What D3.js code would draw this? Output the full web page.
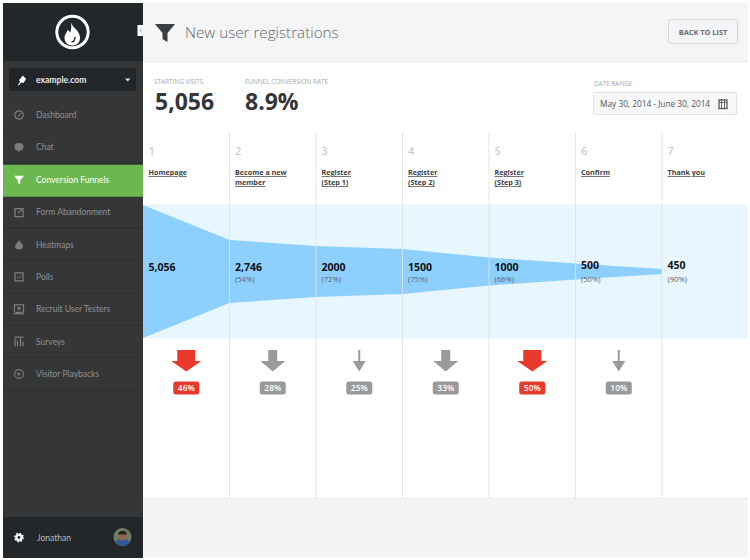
<!DOCTYPE html>
<html>
<head>
<meta charset="utf-8">
<script src="https://cdn.jsdelivr.net/npm/d3@7"></script>
<style>
  html, body { margin: 0; padding: 0; background: #fff; }
  svg { display: block; font-family: "Open Sans", sans-serif; }
  .menu { font-family: Lato, "Open Sans", sans-serif; }
</style>
</head>
<body>
<div id="chart"></div>
<script>
// Funnel data
const stepNumbers = ["1", "2", "3", "4", "5", "6", "7"];
const stepLabels = [["Homepage"], ["Become a new", "member"], ["Register", "(Step 1)"], ["Register", "(Step 2)"], ["Register", "(Step 3)"], ["Confirm"], ["Thank you"]];
const stepVisits = [5056, 2746, 2000, 1500, 1000, 500, 450];
const visitLabels = ["5,056", "2,746", "2000", "1500", "1000", "500", "450"];
const stepRates = [null, 54, 72, 75, 66, 50, 90];
const dropRates = [46, 28, 25, 33, 50, 10];

const menuItems = ["Dashboard", "Chat", "Conversion Funnels", "Form Abandonment", "Heatmaps", "Polls", "Recruit User Testers", "Surveys", "Visitor Playbacks"];
const activeItem = "Conversion Funnels";

const width = 750, height = 560;
const svg = d3.select("#chart").append("svg").attr("width", width).attr("height", height);

// the drawn band is not proportional to the visits, so it is a piecewise scale
const x = d3.scalePoint().domain(stepNumbers).range([143, 662]);
const bandHeight = d3.scaleLinear()
    .domain([450, 500, 1000, 1500, 2000, 2746, 5056])
    .range([5, 16, 28, 45, 51, 63, 133]);
const midY = 271.5;

function txt(parent, str, px, py, size, color, weight, anchor) {
    return parent.append("text")
        .attr("x", px).attr("y", py)
        .attr("font-size", size)
        .attr("fill", color)
        .attr("font-weight", weight || 400)
        .attr("text-anchor", anchor || "start")
        .text(str);
}

// page backgrounds
svg.append("rect").attr("x", 143).attr("y", 3).attr("width", 605).attr("height", 58).attr("fill", "#f4f5f7");
svg.append("line").attr("x1", 143).attr("x2", 748).attr("y1", 61.5).attr("y2", 61.5).attr("stroke", "#e8eaec");
svg.append("rect").attr("x", 143).attr("y", 498).attr("width", 605).attr("height", 59).attr("fill", "#f3f4f6");
svg.append("line").attr("x1", 143).attr("x2", 748).attr("y1", 498.5).attr("y2", 498.5).attr("stroke", "#e6e8ea");

// header
const header = svg.append("g");
header.append("path").attr("d", "M155 24H175L167.5 33V42L162.5 39V33Z").attr("fill", "#3c3f41");
txt(header, "New user registrations", 185, 38, 15.2, "#63666a", 300);
header.append("rect").attr("x", 668.5).attr("y", 19.5).attr("width", 69).attr("height", 24).attr("rx", 2)
    .attr("fill", "#f4f5f7").attr("stroke", "#d5d8da");
txt(header, "BACK TO LIST", 703, 34.5, 7.4, "#6a6d70", 700, "middle");

// summary numbers
const kpi = svg.append("g");
txt(kpi, "STARTING VISITS", 154, 84, 6.4, "#a5a7a9");
txt(kpi, "5,056", 155, 109.5, 23, "#33363a", 700);
txt(kpi, "FUNNEL CONVERSION RATE", 245, 84, 6.4, "#a5a7a9");
txt(kpi, "8.9%", 245, 109.5, 23, "#33363a", 700);
txt(kpi, "DATE RANGE", 594, 85.5, 6.4, "#a5a7a9");
kpi.append("rect").attr("x", 593.5).attr("y", 92.5).attr("width", 143).attr("height", 22).attr("rx", 1.5)
    .attr("fill", "#f5f7f9").attr("stroke", "#dfe3e6");
txt(kpi, "May 30, 2014 - June 30, 2014", 600, 106.5, 8.3, "#55585b");
kpi.append("rect").attr("x", 719).attr("y", 100).attr("width", 8).attr("height", 8.5).attr("fill", "none").attr("stroke", "#55585b").attr("stroke-width", 1.3);
kpi.append("path").attr("d", "M721.5 99V108M724.5 99V108M719 102.5H727").attr("stroke", "#55585b").attr("stroke-width", 0.9);

// funnel band
const steps = stepNumbers.map((n, i) => ({ n: n, visits: stepVisits[i], label: visitLabels[i], rate: stepRates[i], lines: stepLabels[i] }));

svg.append("rect").attr("x", x("1")).attr("y", midY - bandHeight(5056) / 2 - 0.5)
    .attr("width", 748 - x("1")).attr("height", bandHeight(5056) + 1).attr("fill", "#e8f6ff");

const area = d3.area()
    .x(d => x(d.n))
    .y0(d => midY - bandHeight(d.visits) / 2)
    .y1(d => midY + bandHeight(d.visits) / 2);
svg.append("path").datum(steps).attr("d", area).attr("fill", "#8dd0fd");

// column dividers
svg.selectAll(".divider").data(stepNumbers.slice(1)).enter().append("line")
    .attr("class", "divider")
    .attr("x1", d => x(d)).attr("x2", d => x(d))
    .attr("y1", 132).attr("y2", 498)
    .attr("stroke", "#dfe3e7").attr("stroke-opacity", 0.9);

// column text
const col = svg.selectAll(".step").data(steps).enter().append("g")
    .attr("class", "step")
    .attr("transform", d => `translate(${x(d.n)},0)`);

col.append("text").attr("x", 5.5).attr("y", 155).attr("font-size", 11).attr("font-weight", 600).attr("fill", "#cbcdcf").text(d => d.n);
col.each(function(d) {
    const g = d3.select(this);
    d.lines.forEach((line, i) => {
        txt(g, line, 5.5, 175 + i * 10, 7.2, "#3f4245", 700)
            .style("text-decoration", "underline")
            .style("text-decoration-color", "#c4c6c8");
    });
});
col.append("text").attr("x", 5.5)
    .attr("y", d => d.visits <= 500 ? 269 : 271)
    .attr("font-size", 10.5).attr("font-weight", 700).attr("fill", "#111").text(d => d.label);
col.filter(d => d.rate !== null).append("text").attr("x", 5.5).attr("y", 282)
    .attr("font-size", 7.6).attr("fill", "#5f6265").text(d => `(${d.rate}%)`);

// drop-off arrows
const arrowHalf = d3.scaleThreshold().domain([28, 46]).range([6.5, 12.5, 15]);
const shaftHalf = d3.scaleThreshold().domain([28, 46]).range([1, 4.5, 9]);
const dropColor = d3.scaleThreshold().domain([46]).range(["#9a9a9a", "#e8392c"]);

const drop = svg.selectAll(".drop").data(dropRates).enter().append("g")
    .attr("class", "drop")
    .attr("transform", (d, i) => `translate(${(x(stepNumbers[i]) + x(stepNumbers[i + 1])) / 2},0)`);

drop.append("path")
    .attr("d", d => {
        const a = arrowHalf(d), s = shaftHalf(d);
        return `M${-s} 350H${s}V361H${a}L0 371.5L${-a} 361H${-s}Z`;
    })
    .attr("fill", dropColor);
drop.append("rect").attr("x", -13).attr("y", 381.5).attr("width", 26).attr("height", 13).attr("rx", 2.5).attr("fill", dropColor);
drop.append("text").attr("y", 391.2).attr("text-anchor", "middle").attr("font-size", 8.4).attr("font-weight", 600)
    .attr("fill", "#fff").text(d => d + "%");

// sidebar
const side = svg.append("g").attr("class", "menu");
side.append("rect").attr("x", 3).attr("y", 3).attr("width", 140).attr("height", 555).attr("fill", "#353637");
side.append("rect").attr("x", 3).attr("y", 3).attr("width", 140).attr("height", 58).attr("fill", "#22272a");
side.append("rect").attr("x", 3).attr("y", 517).attr("width", 140).attr("height", 41).attr("fill", "#23272a");

// logo
side.append("circle").attr("cx", 72.5).attr("cy", 32).attr("r", 15.7).attr("fill", "none").attr("stroke", "#fff").attr("stroke-width", 3);
side.append("path").attr("d", "M71 22C72 28 80 30 80 38C80 43 76 45.5 72.5 45.5C68 45.5 64.5 42.5 64.5 38C64.5 34 67 33 67.5 30C69.5 31 70 32 70 33C71.5 30 71.5 26 71 22Z").attr("fill", "#fff");
side.append("path").attr("d", "M75 37C75 40.5 74 42 71.5 42").attr("fill", "none").attr("stroke", "#22272a").attr("stroke-width", 1.4);
svg.append("rect").attr("x", 137.5).attr("y", 25).attr("width", 6).attr("height", 11).attr("fill", "#fff");
svg.append("path").attr("d", "M142 28.5L140 30.5L142 32.5").attr("fill", "none").attr("stroke", "#999");

// site selector
side.append("rect").attr("x", 9).attr("y", 68).attr("width", 127).attr("height", 23).attr("rx", 1.5).attr("fill", "#232629");
side.append("path").attr("d", "M18 85L20 82L19 80L23 75.5L26 79L23.5 83L21 82.5L19 85.5Z").attr("fill", "#fff");
txt(side, "example.com", 36, 82.5, 8.6, "#e8e9e9", 700);
side.append("path").attr("d", "M125 78.5H130.5L127.7 81.5Z").attr("fill", "#ddd");

// menu rows
const rowY = d3.scalePoint().domain(menuItems).range([115, 374]);
const rows = side.selectAll(".row").data(menuItems).enter().append("g")
    .attr("class", "row")
    .attr("transform", d => `translate(0,${rowY(d)})`);
rows.append("line").attr("x1", 3).attr("x2", 143).attr("y1", 16).attr("y2", 16).attr("stroke", "#2e2f30");
rows.filter(d => d === activeItem).append("rect").attr("x", 3).attr("y", -15).attr("width", 140).attr("height", 32).attr("fill", "#6cb850");
rows.append("text").attr("x", 36).attr("y", 3).attr("font-size", 8.5)
    .attr("fill", d => d === activeItem ? "#fff" : "#8f9192").text(d => d);

// small menu icons, one per row
const iconColor = "#7b7d7e";
const menuIcons = {
    "Dashboard": g => { g.append("circle").attr("r", 4.2).attr("fill", "none").attr("stroke", iconColor).attr("stroke-width", 1.2); g.append("path").attr("d", "M-1 2L1.5 -2").attr("stroke", iconColor); },
    "Chat": g => { g.append("path").attr("d", "M-4.5 -0.5A4.5 3.8 0 1 1 1 3.2L-1 5V3.2A4.5 3.8 0 0 1 -4.5 -0.5Z").attr("fill", iconColor); },
    "Conversion Funnels": g => { g.append("path").attr("d", "M-5 -4H5L1.2 0.5V4.5L-1.2 3V0.5Z").attr("fill", "#fff"); },
    "Form Abandonment": g => { g.append("rect").attr("x", -4).attr("y", -3.5).attr("width", 8).attr("height", 8).attr("fill", "none").attr("stroke", iconColor).attr("stroke-width", 1.3); g.append("path").attr("d", "M-1 1L4 -4").attr("stroke", iconColor).attr("stroke-width", 1.3); },
    "Heatmaps": g => { g.append("path").attr("d", "M0 -5C1 -2 4 -1 4 2C4 4 2 5 0 5C-2 5 -4 4 -4 2C-4 0 -2 -1 -2 -2C-1 -2 0 -3 0 -5Z").attr("fill", iconColor); },
    "Polls": g => { g.append("rect").attr("x", -4).attr("y", -4).attr("width", 8).attr("height", 8).attr("fill", "none").attr("stroke", iconColor).attr("stroke-width", 1.3); g.append("path").attr("d", "M-2 0L-0.5 1.5L2 -1.5").attr("fill", "none").attr("stroke", iconColor); },
    "Recruit User Testers": g => { g.append("rect").attr("x", -4.5).attr("y", -4.5).attr("width", 9).attr("height", 9).attr("fill", "none").attr("stroke", iconColor).attr("stroke-width", 1.2); g.append("circle").attr("cy", -1).attr("r", 1.6).attr("fill", iconColor); g.append("path").attr("d", "M-3 3.2H3").attr("stroke", iconColor).attr("stroke-width", 1.4); },
    "Surveys": g => { g.append("path").attr("d", "M-4 4.5V-3.5M-1.5 4.5V-1M1.5 4.5V-3.5M4 4.5V0M-4.5 -4.5H4.5").attr("stroke", iconColor).attr("stroke-width", 1.3); },
    "Visitor Playbacks": g => { g.append("circle").attr("r", 4.4).attr("fill", "none").attr("stroke", iconColor).attr("stroke-width", 1.1); g.append("path").attr("d", "M-1.3 -2V2L2 0Z").attr("fill", iconColor); }
};
rows.append("g").attr("transform", "translate(19,0)").each(function(d) { menuIcons[d](d3.select(this)); });

// footer
side.append("circle").attr("cx", 19).attr("cy", 537.5).attr("r", 2.6).attr("fill", "none").attr("stroke", "#fff").attr("stroke-width", 2.4);
side.append("circle").attr("cx", 19).attr("cy", 537.5).attr("r", 4.2).attr("fill", "none").attr("stroke", "#fff").attr("stroke-width", 1.4).attr("stroke-dasharray", "1.6 1.7");
txt(side, "Jonathan", 37, 540.5, 8.5, "#b9babb");
side.append("circle").attr("cx", 122.5).attr("cy", 537).attr("r", 9).attr("fill", "#6f7d62");
side.append("path").attr("d", "M115.5 542.5A9 9 0 0 0 129.5 542.5L127 539H118Z").attr("fill", "#2f5a9a");
side.append("circle").attr("cx", 122.5).attr("cy", 536).attr("r", 4.6).attr("fill", "#8f6552");
side.append("path").attr("d", "M118 534.5A4.6 4.6 0 0 1 127 534.5Z").attr("fill", "#2a2320");
</script>
</body>
</html>
